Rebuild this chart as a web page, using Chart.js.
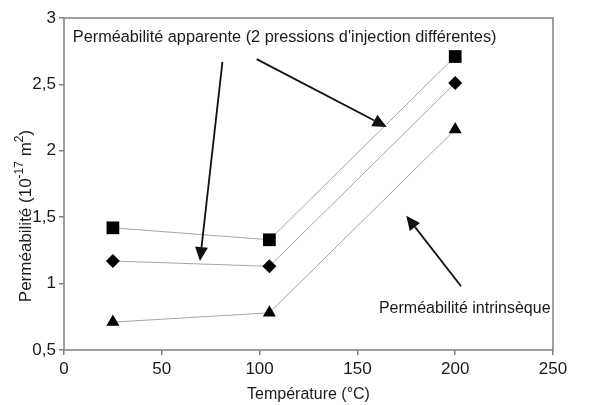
<!DOCTYPE html>
<html><head><meta charset="utf-8">
<script src="https://cdn.jsdelivr.net/npm/chart.js@4"></script>
<style>html,body{margin:0;padding:0;background:#fff}#wrap{width:607px;height:405px}</style>
</head><body><div id="wrap"><canvas id="c" width="607" height="405"></canvas></div>
<script>
const temperatures = [25, 105, 200];
const apparentHigh = [1.42, 1.33, 2.71];
const apparentLow = [1.17, 1.13, 2.51];
const intrinsic = [0.71, 0.78, 2.16];
const xTicks = [0, 50, 100, 150, 200, 250];
const yTicks = [0.5, 1, 1.5, 2, 2.5, 3];
const labelApparent = "Perméabilité apparente (2 pressions d'injection différentes)";
const labelIntrinsic = "Perméabilité intrinsèque";
// arrows in data coordinates: [x0,y0,x1,y1] (tip at x1,y1)
const arrows = [[81, 2.67, 69.5, 1.17], [98.5, 2.69, 165, 2.18], [203, 0.98, 175, 1.51]];

const FONT = "'Liberation Sans', Arial, sans-serif";
function pts(ys){ return temperatures.map((t,i)=>({x:t,y:ys[i]})); }
const common = {borderColor:'#a6a6a6', borderWidth:1, backgroundColor:'#000', pointBorderColor:'#000', pointBackgroundColor:'#000', showLine:true, pointBorderWidth:0};

const overlay = {
  id:'overlay',
  afterDraw(chart){
    const ctx = chart.ctx, a = chart.chartArea, xs = chart.scales.x, ys = chart.scales.y;
    ctx.save();
    ctx.strokeStyle = '#808080'; ctx.lineWidth = 1.5;
    ctx.strokeRect(a.left, a.top, a.right - a.left, a.bottom - a.top);
    // arrows
    ctx.strokeStyle = '#111'; ctx.fillStyle = '#111'; ctx.lineWidth = 1.8;
    arrows.forEach(([x0,y0,x1,y1])=>{
      const px0 = xs.getPixelForValue(x0), py0 = ys.getPixelForValue(y0);
      const px1 = xs.getPixelForValue(x1), py1 = ys.getPixelForValue(y1);
      const ang = Math.atan2(py1-py0, px1-px0);
      const L = 14, W = 6.5;
      const bx = px1 - L*Math.cos(ang), by = py1 - L*Math.sin(ang);
      ctx.beginPath(); ctx.moveTo(px0,py0); ctx.lineTo(bx,by); ctx.stroke();
      ctx.beginPath(); ctx.moveTo(px1,py1);
      ctx.lineTo(bx + W*Math.sin(ang), by - W*Math.cos(ang));
      ctx.lineTo(bx - W*Math.sin(ang), by + W*Math.cos(ang));
      ctx.closePath(); ctx.fill();
    });
    // annotation texts
    ctx.fillStyle = '#1a1a1a'; ctx.font = '16.3px ' + FONT; ctx.textBaseline = 'middle'; ctx.textAlign = 'left';
    ctx.fillText(labelApparent, xs.getPixelForValue(4.5), ys.getPixelForValue(2.85));
    ctx.font = '16px ' + FONT;
    ctx.fillText(labelIntrinsic, xs.getPixelForValue(161), ys.getPixelForValue(0.81));
    // y axis title with superscripts
    ctx.translate(26, 216);
    ctx.rotate(-Math.PI/2);
    const parts = [['Perméabilité (10',0],['-17',1],[' m',0],['2',1],[')',0]];
    let total = 0;
    parts.forEach(([t,s])=>{ ctx.font = (s?'12px ':'17px ') + FONT; total += ctx.measureText(t).width; });
    let x = -total/2;
    parts.forEach(([t,s])=>{ ctx.font = (s?'12px ':'17px ') + FONT; ctx.fillText(t, x, s ? -6 : 0); x += ctx.measureText(t).width; });
    ctx.restore();
  }
};

new Chart(document.getElementById('c'), {
  type:'scatter',
  data:{datasets:[
    Object.assign({label:'A', data:pts(apparentHigh), pointStyle:'rect', pointRadius:9, pointHoverRadius:9}, common),
    Object.assign({label:'B', data:pts(apparentLow), pointStyle:'rectRot', pointRadius:7, pointHoverRadius:7}, common),
    Object.assign({label:'C', data:pts(intrinsic), pointStyle:'triangle', pointRadius:7.5, pointHoverRadius:7.5}, common)
  ]},
  options:{
    responsive:false, animation:false, devicePixelRatio:1,
    layout:{padding:{left:0, right:54, top:18, bottom:0}},
    plugins:{legend:{display:false}, tooltip:{enabled:false}},
    scales:{
      x:{type:'linear', min:0, max:250,
        afterBuildTicks(s){ s.ticks = xTicks.map(v=>({value:v})); },
        afterFit(s){ s.height = 55; },
        grid:{drawOnChartArea:false, drawTicks:true, tickLength:5, color:'#808080', lineWidth:1.5},
        border:{display:false},
        ticks:{font:{family:FONT, size:17}, color:'#1a1a1a', padding:4, maxRotation:0},
        title:{display:true, text:'Température (°C)', font:{family:FONT, size:16}, color:'#1a1a1a', padding:{top:0,bottom:1}}
      },
      y:{type:'linear', min:0.5, max:3,
        afterBuildTicks(s){ s.ticks = yTicks.map(v=>({value:v})); },
        afterFit(s){ s.width = 64; },
        grid:{drawOnChartArea:false, drawTicks:true, tickLength:5, color:'#808080', lineWidth:1.5},
        border:{display:false},
        ticks:{font:{family:FONT, size:17}, color:'#1a1a1a', padding:3, callback:v=>String(v).replace('.',',')}
      }
    }
  },
  plugins:[overlay]
});
</script></body></html>
